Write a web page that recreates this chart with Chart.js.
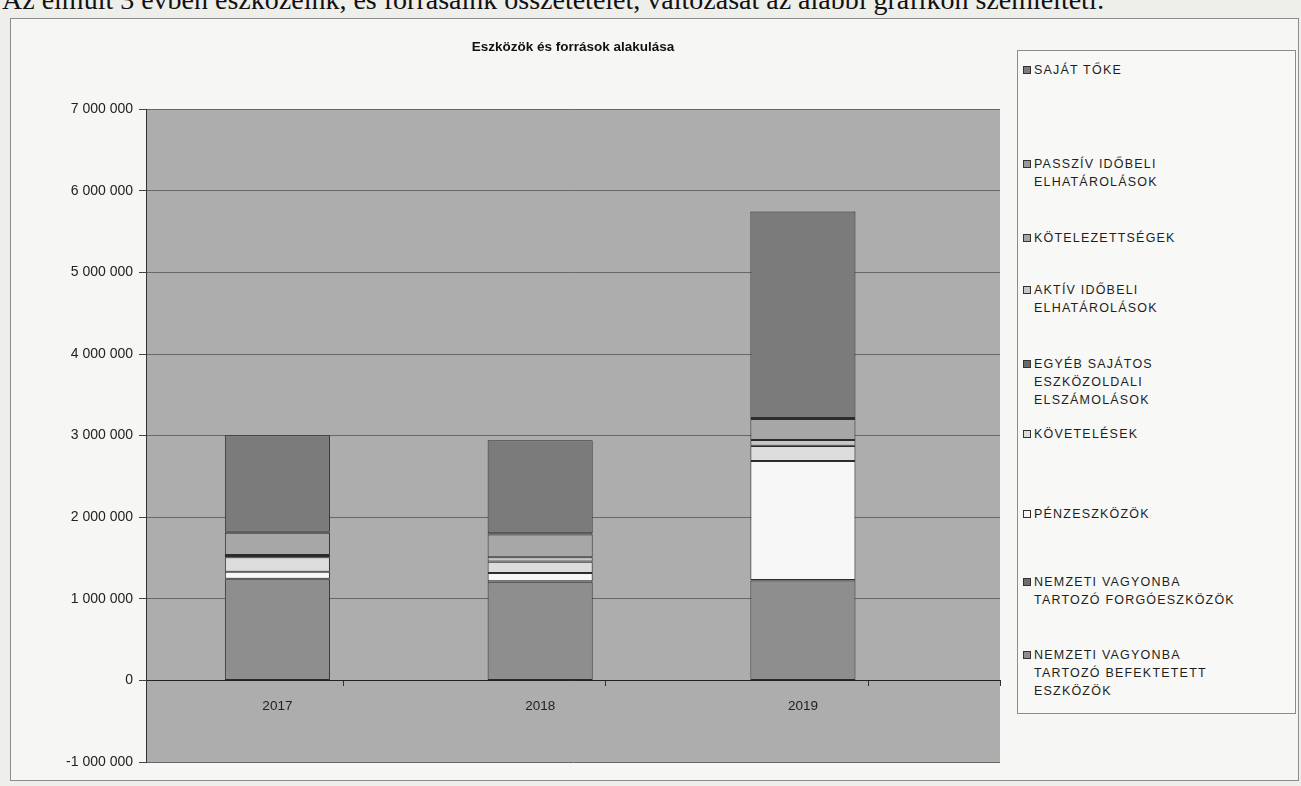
<!DOCTYPE html>
<html>
<head>
<meta charset="utf-8">
<script src="https://cdn.jsdelivr.net/npm/chart.js@4"></script>
<style>
  body { margin: 0; width: 1301px; height: 786px; overflow: hidden; position: relative;
         background: #eeeeeb; font-family: "Liberation Sans", Arial, sans-serif; }
  #intro { position: absolute; left: 2px; top: -14px; font: 28px/1 "Liberation Serif", serif;
           white-space: nowrap; color: #111; }
  #frame { position: absolute; left: 10px; top: 18px; width: 1287px; height: 761px;
           border: 1px solid #8c8c8c; background: #f6f6f4; }
  #c { position: absolute; left: 0; top: 0; }
  #legend { position: absolute; left: 1017px; top: 50px; width: 277px; height: 662px;
            border: 1px solid #8c8c8c; background: #f8f8f6; }
  .item { position: absolute; left: 5px; font-size: 12.5px; letter-spacing: 1.2px;
          line-height: 18px; color: #1e1e1e; white-space: pre; }
  .mark { position: absolute; left: 0; top: 5px; width: 6px; height: 6px; border: 1px solid #333; }
  .txt { position: absolute; left: 11px; top: 0; }
</style>
</head>
<body>
<div id="intro">Az elmúlt 3 évben eszközeink, és forrásaink összetételét, változását az alábbi grafikon szemlélteti:</div>
<div id="frame"></div>
<canvas id="c" width="1010" height="786"></canvas>
<div id="legend"></div>
<script>
const years = ['2017', '2018', '2019'];
const yTicks = [-1000000, 0, 1000000, 2000000, 3000000, 4000000, 5000000, 6000000, 7000000];

// bottom of the stack first
const befektetett = [1240000, 1210000, 1225000];
const forgo = [5000, 5000, 5000];
const penzeszkozok = [85000, 100000, 1458000];
const kovetelesek = [180000, 140000, 184000];
const egyeb = [3000, 3000, 3000];
const aktiv = [25000, 50000, 70000];
const kotelezettsegek = [270000, 280000, 257000];
const passziv = [15000, 15000, 15000];
const sajatToke = [1180000, 1140000, 2530000];

const series = [
  { name: 'NEMZETI VAGYONBA\nTARTOZÓ BEFEKTETETT\nESZKÖZÖK', data: befektetett, color: '#8e8e8e' },
  { name: 'NEMZETI VAGYONBA\nTARTOZÓ FORGÓESZKÖZÖK', data: forgo, color: '#6f6f6f' },
  { name: 'PÉNZESZKÖZÖK', data: penzeszkozok, color: '#f7f7f7' },
  { name: 'KÖVETELÉSEK', data: kovetelesek, color: '#dcdcdc' },
  { name: 'EGYÉB SAJÁTOS\nESZKÖZOLDALI\nELSZÁMOLÁSOK', data: egyeb, color: '#6a6a6a' },
  { name: 'AKTÍV IDŐBELI\nELHATÁROLÁSOK', data: aktiv, color: '#c6c6c6' },
  { name: 'KÖTELEZETTSÉGEK', data: kotelezettsegek, color: '#a7a7a7' },
  { name: 'PASSZÍV IDŐBELI\nELHATÁROLÁSOK', data: passziv, color: '#999999' },
  { name: 'SAJÁT TŐKE', data: sajatToke, color: '#7b7b7b' },
];

// legend, top entry first (Excel order)
const legendTops = [10, 104, 178, 230, 304, 374, 454, 522, 595];
const legendEl = document.getElementById('legend');
series.slice().reverse().forEach((s, i) => {
  const item = document.createElement('div');
  item.className = 'item';
  item.style.top = legendTops[i] + 'px';
  item.innerHTML = '<span class="mark" style="background:' + s.color + '"></span><span class="txt"></span>';
  item.querySelector('.txt').textContent = s.name;
  legendEl.appendChild(item);
});

const fmt = (v) => String(v).replace(/\B(?=(\d{3})+(?!\d))/g, ' ');

const plotBackground = {
  id: 'plotBackground',
  beforeDraw(chart) {
    const { ctx, chartArea } = chart;
    ctx.save();
    ctx.fillStyle = '#adadad';
    ctx.fillRect(chartArea.left, chartArea.top, chartArea.right - chartArea.left, chartArea.bottom - chartArea.top);
    ctx.restore();
  }
};

const fontFamily = '"Liberation Sans", Arial, sans-serif';

new Chart(document.getElementById('c'), {
  type: 'bar',
  data: {
    datasets: series.map((s) => ({
      label: s.name,
      data: s.data.map((v, i) => ({ x: i, y: v })),
      backgroundColor: s.color,
      borderColor: '#2b2b2b',
      borderWidth: 1,
      borderSkipped: false,
      categoryPercentage: 1,
      barPercentage: 0.8,   // ruler step is the half-category tick spacing
    })),
  },
  plugins: [plotBackground],
  options: {
    responsive: false,
    animation: false,
    layout: { padding: { top: 30, left: 0, right: 10, bottom: 24 } },
    plugins: {
      legend: { display: false },
      tooltip: { enabled: false },
      title: {
        display: true,
        fullSize: false,
        text: 'Eszközök és források alakulása',
        color: '#111',
        font: { family: fontFamily, size: 13.5, weight: 'bold' },
        padding: { top: 9, bottom: 54 },
      },
    },
    scales: {
      x: {
        type: 'linear',
        stacked: true,
        offset: false,
        position: { y: 0 },
        min: -0.5,
        max: 2.75,
        afterBuildTicks: (scale) => {
          scale.ticks = [-0.5, 0, 0.5, 1, 1.5, 2, 2.5].map((v) => ({ value: v }));
        },
        border: { display: true, color: '#222', width: 1 },
        grid: {
          display: true,
          drawOnChartArea: false,
          drawTicks: true,
          tickLength: 5,
          tickColor: (ctx) => Number.isInteger(ctx.tick && ctx.tick.value) ? 'rgba(0,0,0,0)' : '#333',
        },
        ticks: {
          autoSkip: false,
          maxRotation: 0,
          padding: 13,
          color: '#222',
          font: { family: fontFamily, size: 13.5 },
          callback: (v) => Number.isInteger(v) ? years[v] : '',
        },
      },
      y: {
        stacked: true,
        min: yTicks[0],
        max: yTicks[yTicks.length - 1],
        afterFit: (scale) => { scale.width = 146; },
        afterBuildTicks: (scale) => { scale.ticks = yTicks.map((v) => ({ value: v })); },
        border: { display: true, color: '#333', width: 1 },
        grid: { color: '#676767', lineWidth: 1, tickLength: 7, tickColor: '#444' },
        ticks: {
          padding: 6,
          color: '#222',
          font: { family: fontFamily, size: 14 },
          callback: (v) => fmt(v),
        },
      },
    },
  },
});
</script>
</body>
</html>
